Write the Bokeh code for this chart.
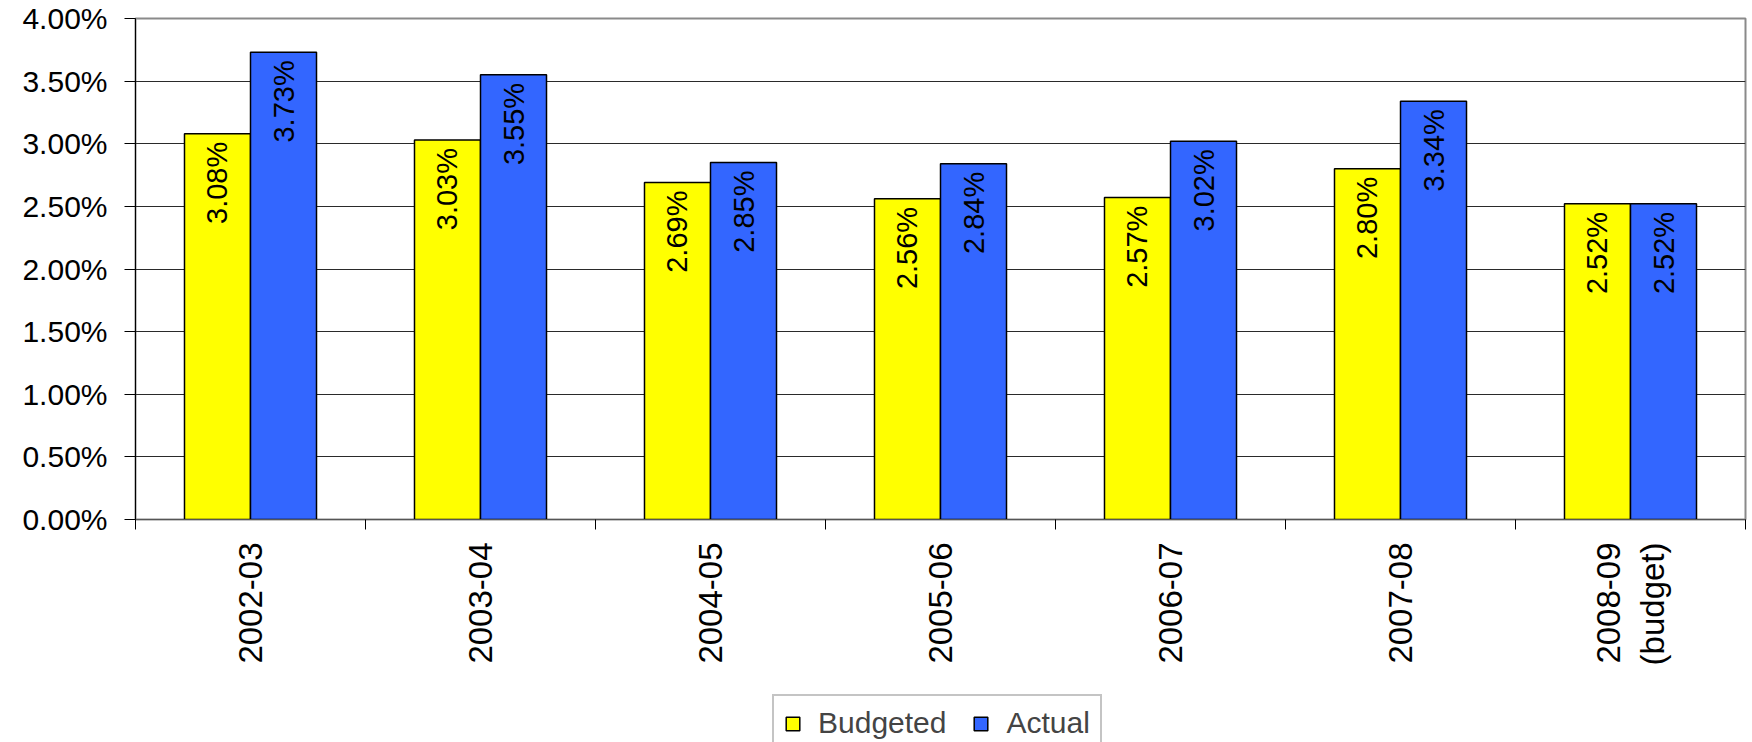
import math
from bokeh.plotting import figure
from bokeh.layouts import column
from bokeh.models import (Range1d, FixedTicker, Legend, LegendItem, ColumnDataSource,
                          PrintfTickFormatter)
from bokeh.transform import dodge
from bokeh.core.properties import value
from bokeh.embed import file_html
from bokeh.resources import INLINE

categories = ["2002-03", "2003-04", "2004-05", "2005-06", "2006-07", "2007-08", "2008-09\n(budget)"]
budgeted = [3.08, 3.03, 2.69, 2.56, 2.57, 2.80, 2.52]
actual = [3.73, 3.55, 2.85, 2.84, 3.02, 3.34, 2.52]
y_ticks = [0.0, 0.5, 1.0, 1.5, 2.0, 2.5, 3.0, 3.5, 4.0]
series = ["Budgeted", "Actual"]
colors = ["#FFFF00", "#3366FF"]

FONT = "Liberation Sans"
BAR_W = 0.287
centers = [i + 0.5 for i in range(len(categories))]

src = ColumnDataSource(data=dict(
    x=centers,
    budgeted=budgeted,
    actual=actual,
    blab=[f"{v:.2f}%" for v in budgeted],
    alab=[f"{v:.2f}%" for v in actual],
))

W = 1752
H1 = 690
H2 = 742 - H1

p = figure(width=W, height=H1, output_backend="svg", toolbar_location=None,
           x_range=Range1d(0, len(categories)), y_range=Range1d(y_ticks[0], y_ticks[-1]),
           min_border_left=135, min_border_right=7, min_border_top=18,
           min_border_bottom=H1 - 519)

p.outline_line_color = "#8a8a8a"
p.outline_line_width = 2
p.background_fill_color = "white"
p.border_fill_color = "white"

r1 = p.vbar(x=dodge("x", -BAR_W / 2, range=p.x_range), top="budgeted", width=BAR_W, source=src,
            fill_color=colors[0], line_color="black", line_width=1.5)
r2 = p.vbar(x=dodge("x", BAR_W / 2, range=p.x_range), top="actual", width=BAR_W, source=src,
            fill_color=colors[1], line_color="black", line_width=1.5)

for col, top, off in (("blab", "budgeted", -BAR_W / 2), ("alab", "actual", BAR_W / 2)):
    p.text(x=dodge("x", off, range=p.x_range), y=top, text=col, source=src,
           angle=math.pi / 2, text_align="right", text_baseline="middle", y_offset=8,
           text_font=value(FONT), text_font_size="29px", text_color="black")

# y axis
p.yaxis.ticker = FixedTicker(ticks=y_ticks)
p.yaxis.formatter = PrintfTickFormatter(format="%.2f%%")
p.yaxis.major_label_text_font = FONT
p.yaxis.major_label_text_font_size = "30px"
p.yaxis.major_label_text_color = "black"
p.yaxis.major_tick_out = 11
p.yaxis.major_tick_in = 0
p.yaxis.minor_tick_line_color = None
p.yaxis.major_label_standoff = 17
p.yaxis.axis_line_color = "black"
p.yaxis.major_tick_line_color = "black"

p.ygrid.ticker = FixedTicker(ticks=y_ticks[1:-1])
p.ygrid.grid_line_color = "#2a2a2a"
p.ygrid.grid_line_width = 1
p.xgrid.visible = False

# x axis: labels at centers, ticks at boundaries (minor)
p.xaxis.ticker = FixedTicker(ticks=centers, minor_ticks=list(range(len(categories) + 1)))
p.xaxis.major_label_overrides = {c: lab for c, lab in zip(centers, categories)}
p.xaxis.major_label_orientation = math.pi / 2
p.xaxis.major_label_text_font = FONT
p.xaxis.major_label_text_font_size = "33px"
p.xaxis.major_label_text_color = "black"
p.xaxis.major_tick_out = 0
p.xaxis.major_tick_in = 0
p.xaxis.minor_tick_out = 10
p.xaxis.minor_tick_in = 0
p.xaxis.minor_tick_line_color = "black"
p.xaxis.axis_line_color = "#555555"
p.xaxis.major_label_standoff = 13

# legend in its own strip below (frame aligned with the main plot's frame);
# its glyph renderers are zero-size and sit hidden behind the opaque legend box
p2 = figure(width=W, height=H2, output_backend="svg", toolbar_location=None,
            x_range=Range1d(-28.1, 36.3), y_range=Range1d(0, 6),
            min_border_left=135, min_border_right=7, min_border_top=0, min_border_bottom=0)
p2.axis.visible = False
p2.grid.visible = False
p2.outline_line_color = None
p2.border_fill_color = "white"
lr = [p2.vbar(x="x", top=col, bottom=col, width=0, source=src, fill_color=c,
              line_color="black", line_width=1.5)
      for col, c in zip(["budgeted", "actual"], colors)]

legend = Legend(items=[LegendItem(label=s, renderers=[r]) for s, r in zip(series, lr)],
                orientation="horizontal", location=(637, -10),
                border_line_color="#8a8a8a", border_line_width=2,
                glyph_width=17, glyph_height=17, label_text_font=FONT,
                label_text_font_size="30px", label_standoff=17, spacing=26,
                padding=10, margin=0, background_fill_color="white",
                background_fill_alpha=1)
p2.add_layout(legend, "center")

open("out.html", "w").write(file_html(column(p, p2, spacing=0), INLINE))
